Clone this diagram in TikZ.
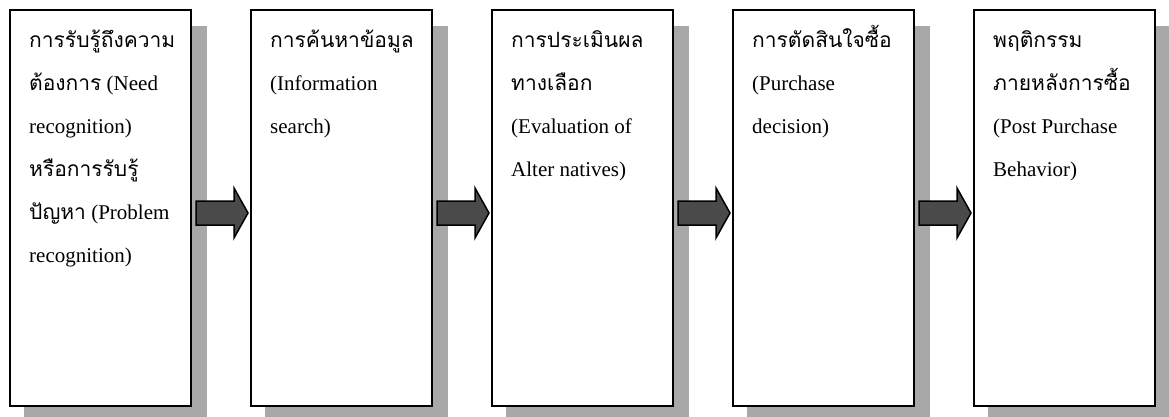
\documentclass[tikz,border=0pt]{standalone}
\usepackage{fontspec}
\setmainfont{Liberation Serif}
\newfontfamily\thaifont[Script=Thai,Scale=1.0]{Loma}
\usetikzlibrary{positioning,calc,backgrounds}
\definecolor{cShade}{HTML}{A8A8A8}
\definecolor{cArrow}{HTML}{4A4A4A}
\tikzset{
  stage/.style={draw=black, line width=2pt, fill=white, inner sep=0pt,
                minimum width=181pt, minimum height=396pt},
  txt/.style={align=left, inner sep=0pt, font=\fontsize{21}{43}\selectfont},
  shade/.style={fill=cShade},
  blk/.style={fill=cArrow, draw=black, line width=1.5pt, line join=miter},
}
\newcommand{\tha}[1]{{\thaifont #1}}
\newcommand{\fl}{\rule{0pt}{24pt}}

\begin{document}
\begin{tikzpicture}[x=1pt, y=1pt, node distance=58pt]
  \useasboundingbox (0,0) rectangle (1169,416);

  \node[stage] (b1) at (100.5,208) {};
  \node[stage, right=of b1] (b2) {};
  \node[stage, right=of b2] (b3) {};
  \node[stage, right=of b3] (b4) {};
  \node[stage, right=of b4] (b5) {};

  \begin{scope}[on background layer]
    \fill[white] (0,0) rectangle (1169,416);
    \foreach \i in {1,...,5}
      \fill[shade] ($(b\i.south west)+(15,-10)$) rectangle ($(b\i.north east)+(15,-17)$);
  \end{scope}

  \node[txt, below right=14pt and 20pt of b1.north west] (t1)
    {\fl\tha{การรับรู้ถึงความ}\\ \tha{ต้องการ} (Need\\ recognition)\\
     \tha{หรือการรับรู้}\\ \tha{ปัญหา} (Problem\\ recognition)};
  \node[txt, below right=14pt and 20pt of b2.north west] (t2)
    {\fl\tha{การค้นหาข้อมูล}\\ (Information\\ search)};
  \node[txt, below right=14pt and 20pt of b3.north west] (t3)
    {\fl\tha{การประเมินผล}\\ \tha{ทางเลือก}\\ (Evaluation of\\ Alter natives)};
  \node[txt, below right=14pt and 20pt of b4.north west] (t4)
    {\fl\tha{การตัดสินใจซื้อ}\\ (Purchase\\ decision)};
  \node[txt, below right=14pt and 20pt of b5.north west] (t5)
    {\fl\tha{พฤติกรรม}\\ \tha{ภายหลังการซื้อ}\\ (Post Purchase\\ Behavior)};

  % block arrows between the stages
  \foreach \i/\j in {1/2,2/3,3/4,4/5}
    \draw[blk] ($(b\j.west)+(-2,-5)$) -- ++(-14,25) -- ++(0,-13) -- ++(-38,0)
      -- ++(0,-24) -- ++(38,0) -- ++(0,-13) -- cycle;
\end{tikzpicture}
\end{document}
